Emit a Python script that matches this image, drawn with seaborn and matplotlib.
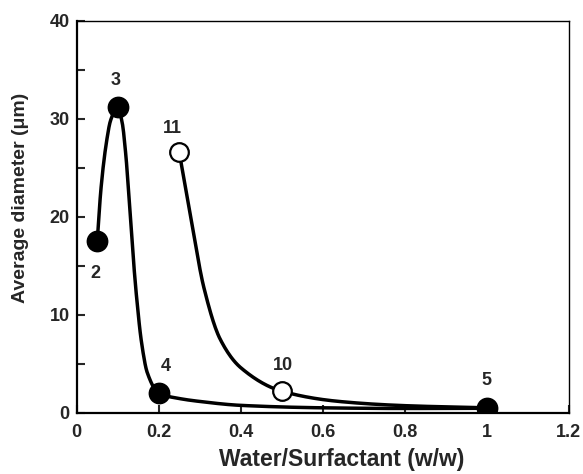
import numpy as np
import pandas as pd
import matplotlib
matplotlib.use("Agg")
import matplotlib.pyplot as plt
import seaborn as sns

# ---- data ----
filled_x = [0.05, 0.1, 0.2, 1.0]
filled_y = [17.5, 31.2, 2.0, 0.45]
filled_labels = ["2", "3", "4", "5"]

open_x = [0.25, 0.5]
open_y = [26.6, 2.2]
open_labels = ["11", "10"]

# traced smooth curves
curve1_x = [0.05, 0.059, 0.071, 0.083, 0.1, 0.111, 0.12, 0.128, 0.137, 0.146,
            0.158, 0.172, 0.2, 0.25, 0.3, 0.4, 0.6, 0.8, 1.0]
curve1_y = [17.5, 22.8, 27.2, 29.9, 31.2, 29.6, 26.2, 21.7, 16.3, 11.8,
            7.2, 4.1, 2.0, 1.45, 1.15, 0.75, 0.5, 0.43, 0.45]
curve2_x = [0.25, 0.28, 0.31, 0.35, 0.4, 0.5, 0.64, 0.8, 1.0]
curve2_y = [26.6, 19.5, 12.8, 7.5, 4.6, 2.2, 1.15, 0.72, 0.5]

x_ticks = [0, 0.2, 0.4, 0.6, 0.8, 1.0, 1.2]
x_ticklabels = ["0", "0.2", "0.4", "0.6", "0.8", "1", "1.2"]
y_ticks = [0, 10, 20, 30, 40]


def pchip(x, y, n=400):
    x = np.asarray(x, float); y = np.asarray(y, float)
    h = np.diff(x); d = np.diff(y) / h
    m = np.zeros_like(y)
    for k in range(1, len(x) - 1):
        if d[k - 1] * d[k] > 0:
            w1 = 2 * h[k] + h[k - 1]; w2 = h[k] + 2 * h[k - 1]
            m[k] = (w1 + w2) / (w1 / d[k - 1] + w2 / d[k])
    m[0] = d[0]; m[-1] = d[-1]
    xs = np.linspace(x[0], x[-1], n)
    idx = np.clip(np.searchsorted(x, xs) - 1, 0, len(x) - 2)
    t = (xs - x[idx]) / h[idx]
    h00 = 2 * t**3 - 3 * t**2 + 1; h10 = t**3 - 2 * t**2 + t
    h01 = -2 * t**3 + 3 * t**2; h11 = t**3 - t**2
    ys = h00 * y[idx] + h10 * h[idx] * m[idx] + h01 * y[idx + 1] + h11 * h[idx] * m[idx + 1]
    return xs, ys


sns.set_style("ticks")
plt.rcParams['font.family'] = ['Liberation Sans', 'DejaVu Sans']
plt.rcParams['font.weight'] = 'bold'

fig = plt.figure(figsize=(5.83, 4.74), dpi=100)
ax = fig.add_axes([0.1316, 0.1293, 0.9755 - 0.1316, 0.9557 - 0.1293])

for cx, cy in [(curve1_x, curve1_y), (curve2_x, curve2_y)]:
    xs, ys = pchip(cx, cy)
    sns.lineplot(x=xs, y=ys, sort=False, estimator=None, color='black',
                 linewidth=2.5, ax=ax, zorder=2)

sns.scatterplot(x=filled_x, y=filled_y, s=210, color='black', edgecolor='black',
                linewidth=1.2, ax=ax, zorder=3)
sns.scatterplot(x=open_x, y=open_y, s=180, color='white', edgecolor='black',
                linewidth=1.6, ax=ax, zorder=3)

offs_f = [(-2, -32), (-2, 27), (7, 27), (0, 28)]
for xv, yv, lab, off in zip(filled_x, filled_y, filled_labels, offs_f):
    ax.annotate(lab, (xv, yv), xytext=off, textcoords='offset pixels',
                ha='center', va='center', fontsize=13, fontweight='bold')
offs_o = [(-7, 24), (1, 26)]
for xv, yv, lab, off in zip(open_x, open_y, open_labels, offs_o):
    ax.annotate(lab, (xv, yv), xytext=off, textcoords='offset pixels',
                ha='center', va='center', fontsize=13, fontweight='bold')

ax.set_xlim(0, 1.2)
ax.set_ylim(0, 40)
ax.set_xticks(x_ticks)
ax.set_xticklabels(x_ticklabels)
ax.set_yticks(y_ticks)
ax.set_yticks([5, 15, 25, 35], minor=True)
ax.tick_params(axis='both', which='both', direction='in', length=6, width=1.5,
               labelsize=13, top=False, right=False)
ax.tick_params(axis='x', pad=8)
ax.tick_params(axis='y', pad=5)
for lbl in ax.get_xticklabels() + ax.get_yticklabels():
    lbl.set_fontweight('bold')

ax.set_xlabel("Water/Surfactant (w/w)", fontsize=16.5, fontweight='bold',
              ha='center', va='center')
ax.set_ylabel("Average diameter (μm)", fontsize=14, fontweight='bold',
              ha='center', va='center')
ax.xaxis.set_label_coords(0.538, -0.12)
ax.yaxis.set_label_coords(-0.114, 0.548)

for s in ['left', 'bottom']:
    ax.spines[s].set_linewidth(1.6)
for s in ['top', 'right']:
    ax.spines[s].set_linewidth(1.0)
    ax.spines[s].set_visible(True)
for s in ax.spines.values():
    s.set_color('black')

fig.savefig("out.png", dpi=100, facecolor='white')
